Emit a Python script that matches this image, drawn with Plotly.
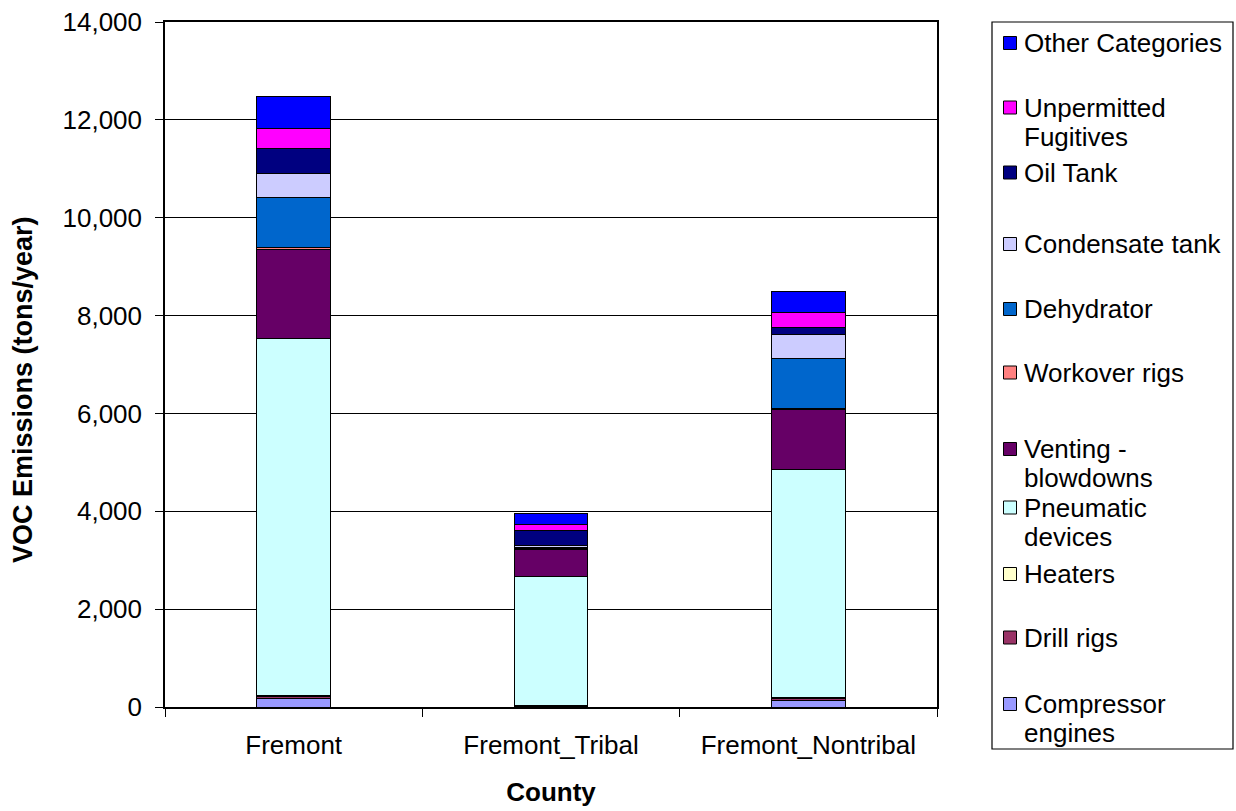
import plotly.graph_objects as go

# Counties on the x axis
counties = ["Fremont", "Fremont_Tribal", "Fremont_Nontribal"]

# Source categories, stacked bottom to top
categories = [
    "Compressor engines",
    "Drill rigs",
    "Heaters",
    "Pneumatic devices",
    "Venting - blowdowns",
    "Workover rigs",
    "Dehydrator",
    "Condensate tank",
    "Oil Tank",
    "Unpermitted Fugitives",
    "Other Categories",
]

# VOC emissions (tons/year) per category, one value per county
compressor_engines = [165, 20, 135]
drill_rigs = [40, 5, 30]
heaters = [35, 5, 25]
pneumatic_devices = [7300, 2633, 4654]
venting_blowdowns = [1820, 546, 1234]
workover_rigs = [30, 30, 25]
dehydrator = [1030, 30, 1024]
condensate_tank = [490, 30, 477]
oil_tank = [510, 307, 149]
unpermitted_fugitives = [410, 125, 315]
other_categories = [655, 228, 421]

series = [
    compressor_engines, drill_rigs, heaters, pneumatic_devices,
    venting_blowdowns, workover_rigs, dehydrator, condensate_tank,
    oil_tank, unpermitted_fugitives, other_categories,
]

colors = [
    "#9999FF", "#993366", "#FFFFCC", "#CCFFFF", "#660066", "#FF8080",
    "#0066CC", "#CCCCFF", "#000080", "#FF00FF", "#0000FF",
]

# Legend labels (top to bottom in the key), with line breaks
legend_labels = {
    "Other Categories": ["Other Categories"],
    "Unpermitted Fugitives": ["Unpermitted", "Fugitives"],
    "Oil Tank": ["Oil Tank"],
    "Condensate tank": ["Condensate tank"],
    "Dehydrator": ["Dehydrator"],
    "Workover rigs": ["Workover rigs"],
    "Venting - blowdowns": ["Venting -", "blowdowns"],
    "Pneumatic devices": ["Pneumatic", "devices"],
    "Heaters": ["Heaters"],
    "Drill rigs": ["Drill rigs"],
    "Compressor engines": ["Compressor", "engines"],
}

FONT = "Liberation Sans, Arial, sans-serif"
FS = 26
W, H = 1236, 811
ML, MR, MT, MB = 165, 299, 22, 104
PW, PH = W - ML - MR, H - MT - MB


def px_x(px):
    return (px - ML) / PW


def px_y(py):
    return (H - MB - py) / PH


fig = go.Figure()
for name, vals, col in zip(categories, series, colors):
    fig.add_trace(go.Bar(
        x=counties, y=vals, name=name,
        marker=dict(color=col, line=dict(color="#000000", width=1)),
        showlegend=False,
    ))

# Key box drawn beside the plot area
shapes = [dict(type="rect", xref="paper", yref="paper",
               x0=px_x(992), x1=px_x(1233), y0=px_y(749), y1=px_y(22),
               line=dict(color="#000000", width=1.2), fillcolor="white")]
annotations = []
key_rows = [43, 107.5, 172.5, 244, 309, 372.5, 449, 507.5, 574, 637.5, 704]
for row_y, name in zip(key_rows, reversed(categories)):
    col = colors[categories.index(name)]
    shapes.append(dict(type="rect", xref="paper", yref="paper",
                       x0=px_x(1003.5), x1=px_x(1016.5),
                       y0=px_y(row_y + 6.5), y1=px_y(row_y - 6.5),
                       line=dict(color="#000000", width=1), fillcolor=col))
    for i, line in enumerate(legend_labels[name]):
        annotations.append(dict(
            xref="paper", yref="paper", x=px_x(1022), y=px_y(row_y + 29 * i),
            text=line, showarrow=False, xanchor="left", yanchor="middle",
            font=dict(family=FONT, size=FS, color="#000000"),
        ))

# Vertical value-axis title
annotations.append(dict(
    xref="paper", yref="paper", x=px_x(23), y=px_y(390),
    text="<b>VOC Emissions (tons/year)</b>", textangle=-90, showarrow=False,
    xanchor="center", yanchor="middle",
    font=dict(family=FONT, size=27, color="#000000"),
))

fig.update_layout(
    barmode="stack",
    bargap=0.714,
    width=W, height=H,
    margin=dict(l=ML, r=MR, t=MT, b=MB, autoexpand=False),
    paper_bgcolor="white", plot_bgcolor="white",
    font=dict(family=FONT, size=FS, color="#000000"),
    shapes=shapes,
    annotations=annotations,
    xaxis=dict(
        title=dict(text="<b>County</b>", font=dict(size=FS), standoff=24),
        showline=True, linecolor="#000000", linewidth=1.5, mirror=True,
        ticks="outside", tickson="boundaries", ticklen=8, tickcolor="#000000",
        tickfont=dict(size=FS), ticklabelstandoff=14, showgrid=False,
    ),
    yaxis=dict(
        range=[0, 14000], dtick=2000, tickformat=",d",
        showline=True, linecolor="#000000", linewidth=1.5, mirror=True,
        ticks="outside", ticklen=8, tickcolor="#000000",
        tickfont=dict(size=FS), ticklabelstandoff=8,
        showgrid=True, gridcolor="#000000", gridwidth=1, zeroline=False,
    ),
)

fig.write_html("out.html")
